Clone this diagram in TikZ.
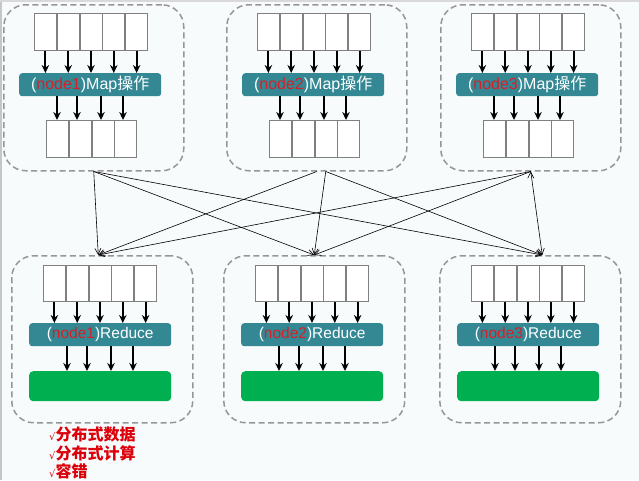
\documentclass[tikz,border=0pt]{standalone}
\usepackage{fontspec}
\setmainfont{Liberation Sans}
\newfontfamily\cjk{Noto Sans CJK SC}
\newfontfamily\symf{DejaVu Sans}
\usetikzlibrary{positioning, arrows.meta}

\definecolor{barteal}{RGB}{52,136,148}
\definecolor{outgreen}{RGB}{0,176,80}
\definecolor{nodered}{RGB}{214,32,40}
\definecolor{listred}{RGB}{220,0,10}
\definecolor{boxgray}{RGB}{150,150,150}
\definecolor{paper}{RGB}{248,251,252}

\tikzset{
  machine/.style={draw=boxgray, dash pattern=on 6pt off 3.5pt, line width=1.5pt,
    rounded corners=22pt, minimum width=180pt, minimum height=166pt,
    anchor=north west, inner sep=0pt},
  cell/.style={draw=gray, fill=white, line width=0.8pt, minimum width=22pt,
    minimum height=37pt, anchor=north west, inner sep=0pt},
  opbar/.style={fill=barteal, rounded corners=3pt, minimum width=142pt,
    minimum height=23pt, anchor=north west, inner sep=0pt, text=white,
    font=\fontsize{16}{16}\selectfont},
  result/.style={fill=outgreen, rounded corners=4pt, minimum width=142pt,
    minimum height=30pt, anchor=north west, inner sep=0pt},
  flow/.style={-{Stealth[length=8pt,width=7.5pt]}, line width=1.9pt},
  shuffle/.style={-{Straight Barb[length=6pt,width=6pt]}, line width=0.6pt},
}

\begin{document}
\begin{tikzpicture}[x=1pt, y=-1pt]
        \fill[paper] (0,0) rectangle (639,480);
        \useasboundingbox (0,0) rectangle (639,480);
        \fill[gray!45] (0,0) rectangle (2,480);
        \fill[gray!30] (0,0) rectangle (639,1.5);

        % map side
        \foreach \n/\x in {1/3, 2/226, 3/440} {
            \node[machine] (m\n) at (\x,4) {};
            \foreach \i in {1,...,5}
                \node[cell] (in\n-\i) at ({\x+31+(\i-1)*22.8},13) {};
            \node[opbar] (map\n) at (\x+16,73) {(\textcolor{nodered}{node\n})Map{\cjk 操作}};
            \foreach \i in {1,...,4}
                \node[cell] (out\n-\i) at ({\x+43+(\i-1)*22.8},120) {};
            \foreach \i in {1,...,5}
                \draw[flow] (in\n-\i.south) -- (in\n-\i.south |- map\n.north);
            \foreach \d in {38,58,82,104}
                \draw[flow] ([xshift=\d pt]map\n.south west) -- ([xshift=\d pt]map\n.south west |- out\n-1.north);
        }

        % reduce side
        \foreach \n/\x in {1/11, 2/223, 3/439} {
            \node[machine, minimum width=181pt, minimum height=167pt] (r\n) at (\x,255) {};
            \foreach \i in {1,...,5}
                \node[cell, minimum height=36pt] (rin\n-\i) at ({\x+32+(\i-1)*22.8},265) {};
            \node[opbar, font=\fontsize{15.5}{15.5}\selectfont] (red\n) at (\x+18,323) {(\textcolor{nodered}{node\n})Reduce};
            \node[result] (res\n) at (\x+18,371) {};
            \foreach \i in {1,...,5}
                \draw[flow] (rin\n-\i.south) -- (rin\n-\i.south |- red\n.north);
            \foreach \d in {38,58,82,104}
                \draw[flow] ([xshift=\d pt]red\n.south west) -- ([xshift=\d pt]red\n.south west |- res\n.north);
        }

        \coordinate (src1) at (m1.south);
        \coordinate (src2) at (m2.south);
        \coordinate (src2b) at ([xshift=9pt]m2.south);
        \coordinate (src3) at (m3.south);
        \coordinate (dst1) at ([xshift=-4pt]r1.north);
        \coordinate (dst2) at (r2.north);
        \coordinate (dst3) at ([xshift=12pt]r3.north);

        \draw[shuffle]  (src1) edge (dst1)  (src1) edge (dst2)  (src1) edge (dst3)
                        (src2) edge (dst1)  (src2b) edge (dst2) (src2b) edge (dst3)
                        (src3) edge (dst1)  (src3) edge (dst2)  (src3) edge (dst3);

        \node[anchor=north west, inner sep=0pt, align=left, text=listred,
              font=\fontsize{16}{18.5}\selectfont] (feat) at (49,427)
              {{\symf\fontsize{10}{10}\selectfont √}{\cjk\bfseries 分布式数据}\\
               {\symf\fontsize{10}{10}\selectfont √}{\cjk\bfseries 分布式计算}\\
               {\symf\fontsize{10}{10}\selectfont √}{\cjk\bfseries 容错}};
\end{tikzpicture}
\end{document}
